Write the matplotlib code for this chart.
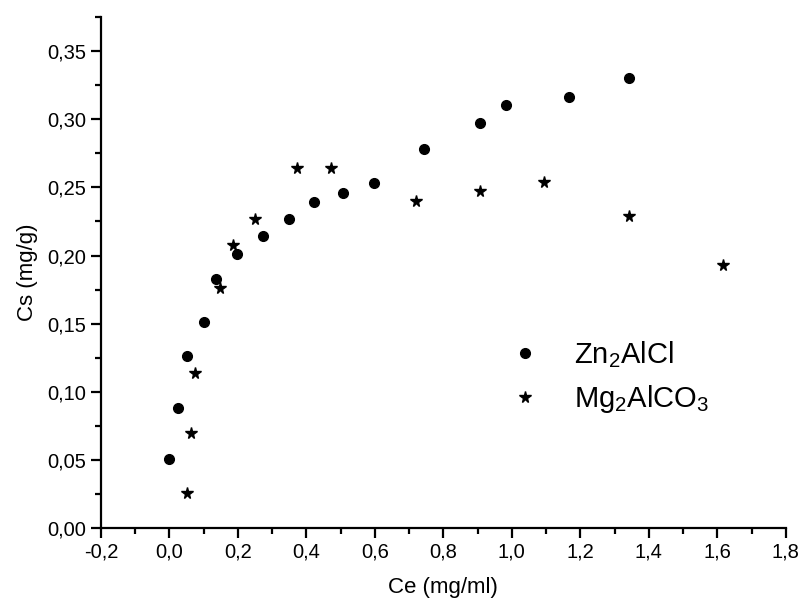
import numpy as np
import matplotlib
matplotlib.use("Agg")
from matplotlib import pyplot as plt
from matplotlib.ticker import MultipleLocator, FuncFormatter

plt.rcParams['font.family'] = ['Liberation Sans', 'DejaVu Sans']
plt.rcParams['mathtext.default'] = 'regular'

# Zn2AlCl (circles)
zn_ce = [0.000, 0.025, 0.050, 0.100, 0.137, 0.198, 0.273, 0.348, 0.421, 0.507,
         0.597, 0.744, 0.907, 0.982, 1.167, 1.343]
zn_cs = [0.051, 0.088, 0.126, 0.151, 0.183, 0.201, 0.214, 0.227, 0.239, 0.246,
         0.253, 0.278, 0.297, 0.310, 0.316, 0.330]

# Mg2AlCO3 (stars)
mg_ce = [0.050, 0.062, 0.076, 0.147, 0.185, 0.250, 0.374, 0.471, 0.720, 0.907,
         1.093, 1.343, 1.616]
mg_cs = [0.026, 0.070, 0.114, 0.176, 0.208, 0.227, 0.264, 0.264, 0.240, 0.247,
         0.254, 0.229, 0.193]

fig = plt.figure(figsize=(8.01, 6.01), dpi=100)
ax = fig.add_axes([0.126, 0.121, 0.855, 0.851])

ax.plot(zn_ce, zn_cs, 'o', color='black', markersize=7, label=r'Zn$_2$AlCl')
ax.plot(mg_ce, mg_cs, '*', color='black', markersize=8.5, label=r'Mg$_2$AlCO$_3$')

ax.set_xlim(-0.2, 1.8)
ax.set_ylim(0, 0.375)

ax.xaxis.set_major_locator(MultipleLocator(0.2))
ax.xaxis.set_minor_locator(MultipleLocator(0.1))
ax.yaxis.set_major_locator(MultipleLocator(0.05))
ax.yaxis.set_minor_locator(MultipleLocator(0.025))

ax.xaxis.set_major_formatter(FuncFormatter(lambda v, p: ('%.1f' % v).replace('.', ',').replace('-0,0', '0,0')))
ax.yaxis.set_major_formatter(FuncFormatter(lambda v, p: ('%.2f' % v).replace('.', ',')))

for s in ['top', 'right']:
    ax.spines[s].set_visible(False)
for s in ['left', 'bottom']:
    ax.spines[s].set_linewidth(1.6)

ax.tick_params(which='major', direction='out', length=7, width=1.6, labelsize=14.5)
ax.tick_params(which='minor', direction='out', length=4, width=1.6)

ax.set_xlabel('Ce (mg/ml)', fontsize=16, labelpad=11)
ax.set_ylabel('Cs (mg/g)', fontsize=16, labelpad=7)

leg = ax.legend(loc='center left', bbox_to_anchor=(0.539, 0.296), frameon=False,
                fontsize=21, handletextpad=0.68, labelspacing=0.46, markerscale=1.0)

fig.savefig("out.png", dpi=100)
